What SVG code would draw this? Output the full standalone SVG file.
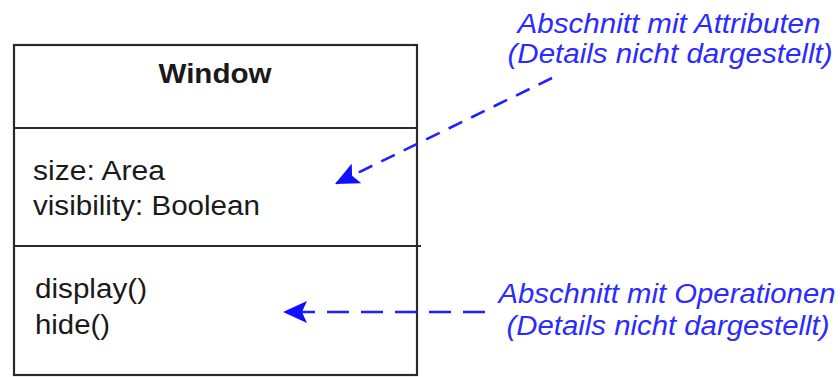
<svg xmlns="http://www.w3.org/2000/svg" width="840" height="377" viewBox="0 0 840 377">
  <style>
    .box { fill: #ffffff; stroke: #2a2a2a; stroke-width: 2.2; }
    .div { stroke: #2a2a2a; stroke-width: 2.2; }
    .t { font-family: "Liberation Sans", Arial, sans-serif; font-size: 27px; fill: #1a1a1a; }
    .title { font-weight: bold; }
    .note { font-family: "Liberation Sans", Arial, sans-serif; font-size: 27px; font-style: italic; fill: #2b2bff; }
    .conn { fill: none; stroke: #1f1fff; stroke-width: 2.6; }
  </style>
  <defs>
    <marker id="arrow" markerUnits="userSpaceOnUse" markerWidth="26" markerHeight="22" refX="24" refY="11" orient="auto">
      <path d="M0,0 L24,11 L0,22 L5,11 Z" fill="#1010ff"/>
    </marker>
  </defs>
  <rect width="840" height="377" fill="#ffffff"/>

  <g id="window-class">
    <rect class="box" x="14" y="45" width="403" height="330"/>
    <line class="div" x1="14" y1="128" x2="417" y2="128"/>
    <line class="div" x1="14" y1="246" x2="421" y2="246"/>
    <text class="t title" x="215" y="83" text-anchor="middle" textLength="113" lengthAdjust="spacingAndGlyphs">Window</text>
    <text class="t" x="33" y="180" textLength="132" lengthAdjust="spacingAndGlyphs">size: Area</text>
    <text class="t" x="33" y="215" textLength="227" lengthAdjust="spacingAndGlyphs">visibility: Boolean</text>
    <text class="t" x="35" y="298" textLength="112" lengthAdjust="spacingAndGlyphs">display()</text>
    <text class="t" x="35" y="334" textLength="75" lengthAdjust="spacingAndGlyphs">hide()</text>
  </g>

  <g id="note-attributes">
    <text class="note" x="669" y="33" text-anchor="middle" textLength="303" lengthAdjust="spacingAndGlyphs">Abschnitt mit Attributen</text>
    <text class="note" x="670" y="63" text-anchor="middle" textLength="325" lengthAdjust="spacingAndGlyphs">(Details nicht dargestellt)</text>
  </g>

  <g id="note-operations">
    <text class="note" x="667" y="303" text-anchor="middle" textLength="337" lengthAdjust="spacingAndGlyphs">Abschnitt mit Operationen</text>
    <text class="note" x="668" y="335" text-anchor="middle" textLength="323" lengthAdjust="spacingAndGlyphs">(Details nicht dargestellt)</text>
  </g>

  <g id="connectors">
    <line class="conn" x1="552" y1="78" x2="335" y2="184" stroke-dasharray="15,10" marker-end="url(#arrow)"/>
    <line class="conn" x1="485" y1="312" x2="283" y2="312" stroke-dasharray="22,12" marker-end="url(#arrow)"/>
  </g>
</svg>
